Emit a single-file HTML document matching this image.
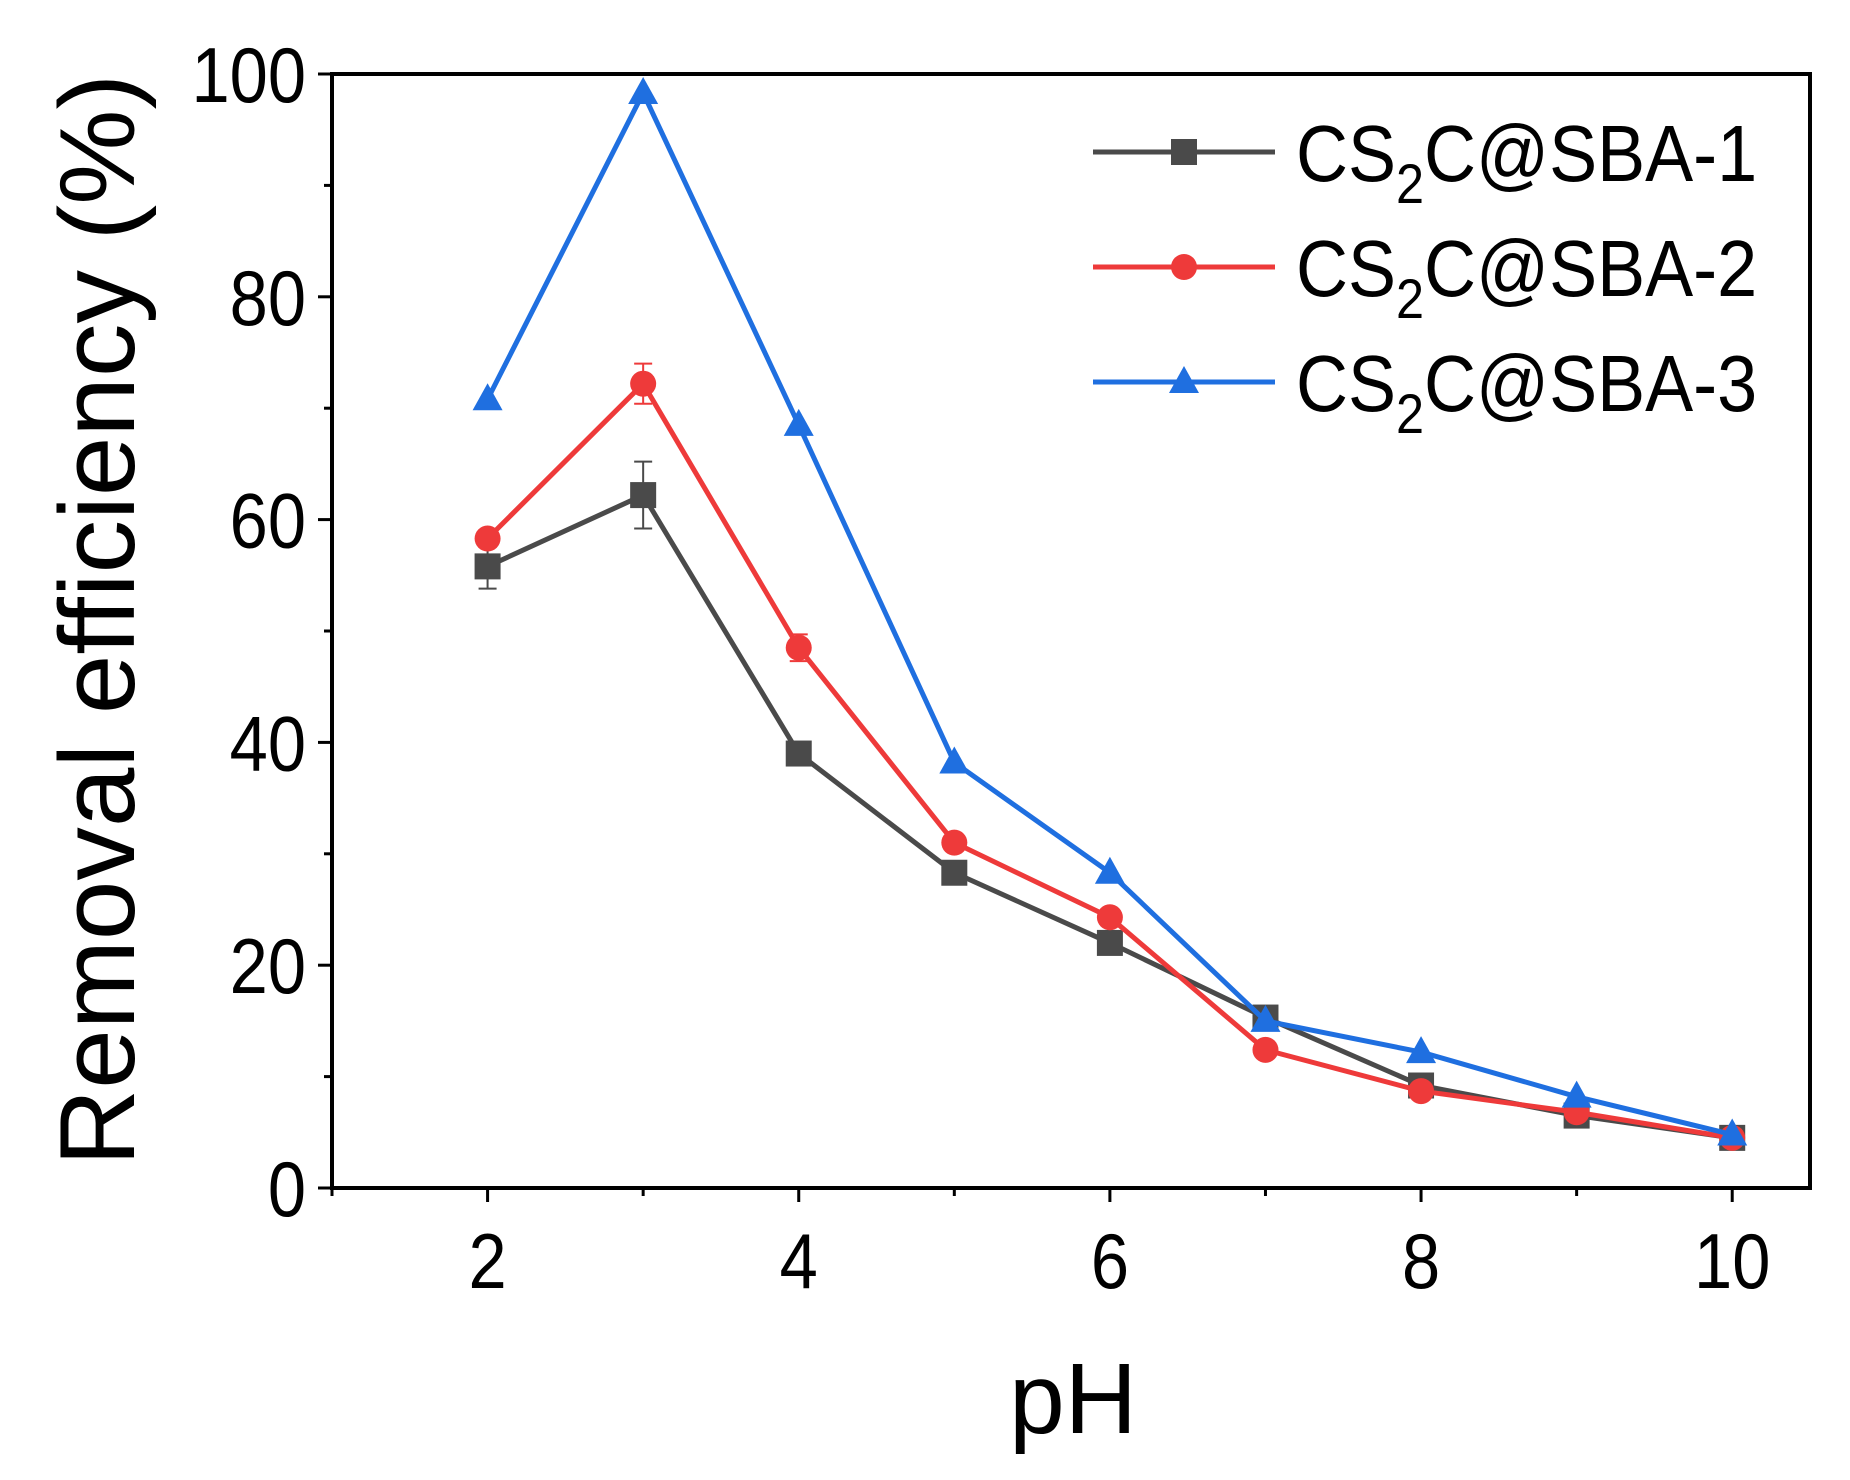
<!DOCTYPE html>
<html><head><meta charset="utf-8"><style>body{margin:0;background:#fff}svg{display:block;font-family:"Liberation Sans",Arial,sans-serif}</style></head>
<body>
<svg id="chart" width="1850" height="1480" xmlns="http://www.w3.org/2000/svg"></svg>
<script>
const categories=[2,3,4,5,6,7,8,9,10];
const series1=[55.8,62.2,39,28.3,22,15.3,9.2,6.5,4.5];
const series2=[58.3,72.2,48.5,31,24.3,12.4,8.7,6.8,4.5];
const series3=[70.8,98.3,68.5,38.2,28.3,15,12.2,8.2,4.8];
const err1=[2,3,0,0,0,0,0,0,0];
const err2=[0,1.8,1.2,0,0,0,0,0,0];
const xTicks=[2,4,6,8,10];
const yTicks=[0,20,40,60,80,100];
const L=332,R=1810,T=74,B=1188;
const xs=v=>L+(v-1)/(10.5-1)*(R-L);
const ys=v=>B-v/100*(B-T);
const svg=document.getElementById('chart');
const NS='http://www.w3.org/2000/svg';
function mk(t,a,p){const e=document.createElementNS(NS,t);for(const k in a)e.setAttribute(k,a[k]);(p||svg).appendChild(e);return e;}
let e;
e=mk('rect',{x:L,y:T,width:R-L,height:B-T,fill:'none',stroke:'#000','stroke-width':4});


for(let v=0;v<=100;v+=10){const maj=v%20===0;
e=mk('line',{x1:L,x2:L-(maj?14:8),y1:ys(v),y2:ys(v),stroke:'#000','stroke-width':3});

}
yTicks.forEach(v=>{e=mk('text',{x:0,y:0,'text-anchor':'end','font-size':78,transform:`translate(${L-26},${ys(v)+28}) scale(0.88,1)`});e.textContent=v;

});
for(let v=1;v<=10;v++){const maj=v%2===0;
e=mk('line',{x1:xs(v),x2:xs(v),y1:B,y2:B+(maj?14:8),stroke:'#000','stroke-width':3});

}
xTicks.forEach(v=>{e=mk('text',{x:0,y:0,'text-anchor':'middle','font-size':78,transform:`translate(${xs(v)},1288) scale(0.88,1)`});e.textContent=v;

});
e=mk('text',{x:1073,y:1433,'text-anchor':'middle','font-size':100});e.textContent='pH';


e=mk('text',{x:0,y:0,'text-anchor':'middle','font-size':107,transform:'translate(134,620) rotate(-90)'});e.textContent='Removal efficiency (%)';


function marker(g,type,x,y,c){
 if(type==='sq')return mk('rect',{x:x-13,y:y-13,width:26,height:26,fill:c},g);
 if(type==='ci')return mk('circle',{cx:x,cy:y,r:13,fill:c},g);
 return mk('polygon',{points:`${x},${y-16} ${x+15},${y+11} ${x-15},${y+11}`,fill:c},g);
}
const defs=[[series1,err1,'#4a4a4a','sq','series-cs2c-sba-1'],[series2,err2,'#ee3a3a','ci','series-cs2c-sba-2'],[series3,null,'#1f6fe0','tr','series-cs2c-sba-3']];
defs.forEach(([d,er,c,m,n])=>{
 const g=mk('g',{});
 
 
 mk('polyline',{points:d.map((v,i)=>xs(categories[i])+','+ys(v)).join(' '),fill:'none',stroke:c,'stroke-width':5},g);
 d.forEach((v,i)=>{
  if(er&&er[i]){const x=xs(categories[i]);
   mk('path',{d:`M${x},${ys(v+er[i])}V${ys(v-er[i])}M${x-9},${ys(v+er[i])}h18M${x-9},${ys(v-er[i])}h18`,stroke:c,'stroke-width':2,fill:'none'},g);}
  const p=marker(g,m,xs(categories[i]),ys(v),c);
  
  
 });
});
const labels=['1','2','3'];
defs.forEach(([d,er,c,m,n],i)=>{
 const y=152+i*115;
 const g=mk('g',{});
 
 
 mk('line',{x1:1093,x2:1275,y1:y,y2:y,stroke:c,'stroke-width':5},g);
 marker(g,m,1184,y,c);
 const t=mk('text',{x:0,y:0,'font-size':80,transform:`translate(1296,${y+29}) scale(0.9,1)`},g);
 t.innerHTML='CS<tspan font-size="56" dy="22">2</tspan><tspan dy="-22">C@SBA-'+labels[i]+'</tspan>';
});
</script>
</body></html>
